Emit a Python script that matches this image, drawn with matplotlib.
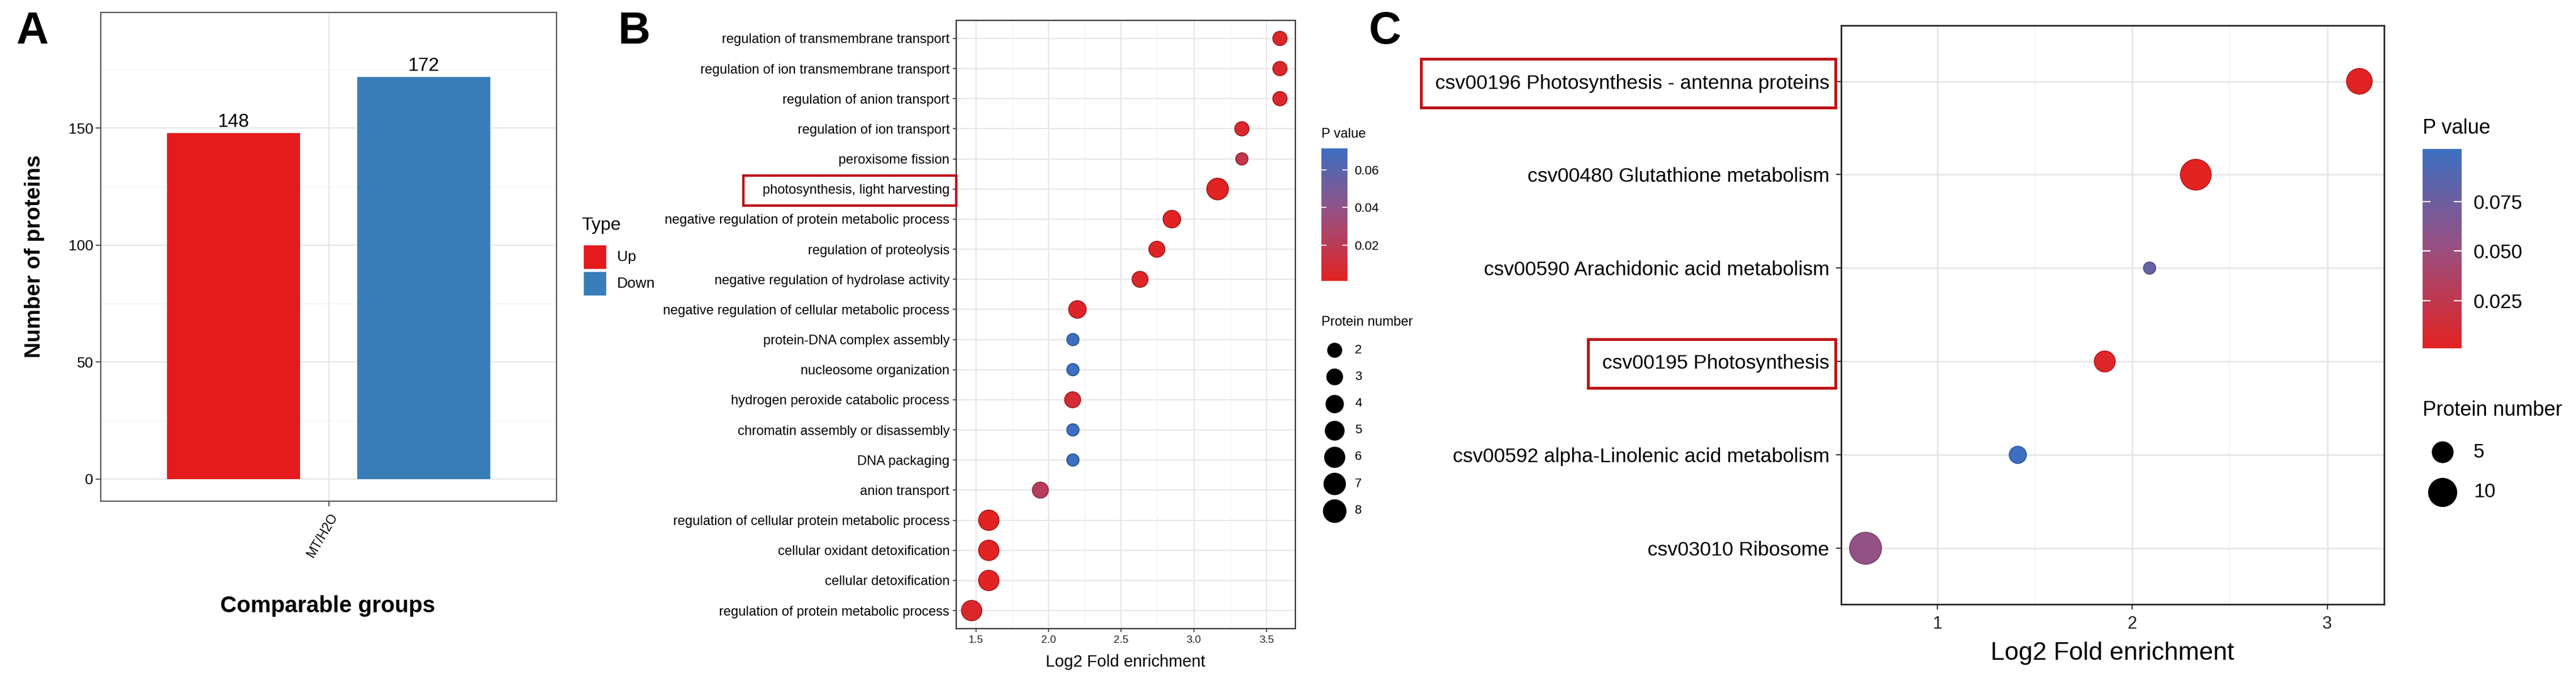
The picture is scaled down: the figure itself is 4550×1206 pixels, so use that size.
import numpy as np
import matplotlib
matplotlib.use('Agg')
import matplotlib.pyplot as plt
from matplotlib.colors import LinearSegmentedColormap, Normalize, to_rgb
from matplotlib.cm import ScalarMappable
from matplotlib.patches import Rectangle

plt.rcParams['font.family'] = ['Liberation Sans', 'DejaVu Sans']

# ---------------- data ----------------
# Panel A
a_group = ['MT/H2O']
a_types = ['Up', 'Down']
a_counts = [148, 172]
a_colors = ['#E41A1C', '#377EB8']

# Panel B (GO enrichment), top to bottom
b_terms = ['regulation of transmembrane transport',
           'regulation of ion transmembrane transport',
           'regulation of anion transport',
           'regulation of ion transport',
           'peroxisome fission',
           'photosynthesis, light harvesting',
           'negative regulation of protein metabolic process',
           'regulation of proteolysis',
           'negative regulation of hydrolase activity',
           'negative regulation of cellular metabolic process',
           'protein-DNA complex assembly',
           'nucleosome organization',
           'hydrogen peroxide catabolic process',
           'chromatin assembly or disassembly',
           'DNA packaging',
           'anion transport',
           'regulation of cellular protein metabolic process',
           'cellular oxidant detoxification',
           'cellular detoxification',
           'regulation of protein metabolic process']
b_fold = [3.593, 3.593, 3.593, 3.331, 3.331, 3.164, 2.849, 2.746, 2.630, 2.199,
          2.168, 2.168, 2.166, 2.168, 2.168, 1.944, 1.589, 1.589, 1.589, 1.471]
b_count = [2, 2, 2, 2, 1, 7, 4, 3, 3, 4, 1, 1, 3, 1, 1, 3, 6, 6, 6, 6]
b_pval = [0.004, 0.004, 0.004, 0.005, 0.016, 0.001, 0.002, 0.003, 0.004, 0.003,
          0.0715, 0.0715, 0.008, 0.0715, 0.0715, 0.022, 0.0015, 0.0015, 0.0015, 0.005]
b_highlight = ['photosynthesis, light harvesting']
b_size_breaks = [2, 3, 4, 5, 6, 7, 8]
b_p_ticks = [0.02, 0.04, 0.06]

# Panel C (KEGG enrichment), top to bottom
c_terms = ['csv00196 Photosynthesis - antenna proteins',
           'csv00480 Glutathione metabolism',
           'csv00590 Arachidonic acid metabolism',
           'csv00195 Photosynthesis',
           'csv00592 alpha-Linolenic acid metabolism',
           'csv03010 Ribosome']
c_fold = [3.165, 2.326, 2.089, 1.859, 1.413, 0.632]
c_count = [8, 12, 1, 5, 3, 13]
c_pval = [0.002, 0.0008, 0.080, 0.004, 0.1017, 0.055]
c_highlight = ['csv00196 Photosynthesis - antenna proteins', 'csv00195 Photosynthesis']
c_size_breaks = [5, 10]
c_p_ticks = [0.025, 0.050, 0.075]

# ---------------- style helpers ----------------
W, H = 4550, 1206
DPI = 100
fig = plt.figure(figsize=(W / DPI, H / DPI), dpi=DPI)
fig.patch.set_facecolor('white')


def rect(x0, y0, x1, y1):
    return [x0 / W, 1 - y1 / H, (x1 - x0) / W, (y1 - y0) / H]


def ftext(x, y, s, **kw):
    return fig.text(x / W, 1 - y / H, s, **kw)


cmap = LinearSegmentedColormap.from_list('pv', ['#E32222', '#9A4F80', '#3C6FC2'])
GRID = '#E6E6E6'
GRID_MINOR = '#F1F1F1'
BOX_RED = '#BE1418'


def size_b(n):
    d = np.sqrt(300 + 165 * np.asarray(n, float))
    return (d * 72 / DPI) ** 2


def size_c(n):
    d = np.sqrt(238 + 226 * np.asarray(n, float))
    return (d * 72 / DPI) ** 2


def darker(c, f=0.72):
    r, g, b = c[:3]
    return (r * f, g * f, b * f)


def style_spines(ax, color='#333333', lw=1.6):
    for sp in ax.spines.values():
        sp.set_color(color)
        sp.set_linewidth(lw)


# overlay axes in pixel coordinates for legends/annotations
ov = fig.add_axes([0, 0, 1, 1], zorder=10)
ov.set_xlim(0, W)
ov.set_ylim(H, 0)
ov.axis('off')
ov.patch.set_alpha(0)

# ---------------- Panel A ----------------
axA = fig.add_axes(rect(178, 22, 983, 885))
offsets = [-0.25, 0.25]
for t, cnt, col, off in zip(a_types, a_counts, a_colors, offsets):
    axA.bar(1 + off, cnt, width=0.35, color=col, zorder=3)
    axA.text(1 + off, cnt + 0.8, str(cnt), ha='center', va='bottom', fontsize=24, zorder=4)
axA.set_xlim(0.4, 1.6)
axA.set_ylim(-9.5, 199.5)
axA.set_yticks([0, 50, 100, 150])
axA.set_yticks([25, 75, 125, 175], minor=True)
axA.set_xticks([1])
axA.set_xticklabels(a_group, rotation=60, ha='right', va='top', rotation_mode='anchor', fontsize=16.5)
axA.grid(True, which='major', color=GRID, lw=1.5, zorder=0)
axA.grid(True, which='minor', axis='y', color=GRID_MINOR, lw=1.0, zorder=0)
axA.tick_params(axis='y', which='major', labelsize=19, length=6.5, width=1.2, pad=3, color='#333333')
axA.tick_params(axis='y', which='minor', length=0)
axA.tick_params(axis='x', length=6.5, width=1.2, pad=6, color='#333333')
style_spines(axA, '#555555', 1.6)
ftext(61, 453, 'Number of proteins', rotation=90, ha='center', va='center', fontsize=28, weight='bold')
ftext(579, 1070, 'Comparable groups', ha='center', va='center', fontsize=29, weight='bold')

# legend "Type"
ftext(1027, 398, 'Type', ha='left', va='center', fontsize=23)
for i, (t, col) in enumerate(zip(a_types, a_colors)):
    y0 = 432 + i * 47
    ov.add_patch(Rectangle((1030, y0), 41, 43, facecolor=col, edgecolor='white', lw=1))
    ov.text(1090, y0 + 22, t, ha='left', va='center', fontsize=19)

# ---------------- Panel B ----------------
axB = fig.add_axes(rect(1689, 36, 2288, 1110))
nB = len(b_terms)
normB = Normalize(vmin=min(b_pval), vmax=max(b_pval))
colsB = cmap(normB(b_pval))
axB.scatter(b_fold, np.arange(nB), s=size_b(b_count), c=colsB,
            edgecolors=[darker(c) for c in colsB], linewidths=1.2, zorder=3)
rngB = max(b_fold) - min(b_fold)
axB.set_xlim(min(b_fold) - 0.05 * rngB, max(b_fold) + 0.05 * rngB)
axB.set_ylim(nB - 0.4, -0.6)
axB.set_yticks(np.arange(nB))
axB.set_yticklabels(b_terms, fontsize=17)
axB.set_xticks([1.5, 2.0, 2.5, 3.0, 3.5])
axB.set_xticklabels(['1.5', '2.0', '2.5', '3.0', '3.5'], fontsize=13.5, color='#222222')
axB.set_xticks([1.75, 2.25, 2.75, 3.25], minor=True)
axB.grid(True, which='major', color=GRID, lw=1.5, zorder=0)
axB.grid(True, which='minor', axis='x', color=GRID_MINOR, lw=1.0, zorder=0)
axB.tick_params(axis='both', which='major', length=4.5, width=1.2, pad=4, color='#333333')
axB.tick_params(axis='x', which='minor', length=0)
style_spines(axB)
ftext(1988, 1169, 'Log2 Fold enrichment', ha='center', va='center', fontsize=21)

# colorbar B
caxB = fig.add_axes(rect(2334, 261.5, 2380, 496))
cbB = fig.colorbar(ScalarMappable(norm=normB, cmap=cmap), cax=caxB)
cbB.outline.set_visible(False)
cbB.set_ticks(b_p_ticks)
cbB.set_ticklabels(['%.2f' % v for v in b_p_ticks])
caxB.tick_params(direction='in', length=6.5, width=1.3, color='white', labelsize=16,
                 left=True, right=True, pad=9)
ftext(2334, 237, 'P value', ha='left', va='center', fontsize=17)
ftext(2334, 569, 'Protein number', ha='left', va='center', fontsize=17)
for i, n in enumerate(b_size_breaks):
    yy = 618 + i * 47.25
    ov.scatter([2357], [yy], s=size_b(n), c='black', zorder=5)
    ov.text(2393, yy, str(n), ha='left', va='center', fontsize=16)

# ---------------- Panel C ----------------
axC = fig.add_axes(rect(3251.5, 44.6, 4211, 1067))
nC = len(c_terms)
normC = Normalize(vmin=min(c_pval), vmax=max(c_pval))
colsC = cmap(normC(c_pval))
axC.scatter(c_fold, np.arange(nC), s=size_c(c_count), c=colsC,
            edgecolors=[darker(c, 0.8) for c in colsC], linewidths=1.2, zorder=3)
rngC = max(c_fold) - min(c_fold)
axC.set_xlim(min(c_fold) - 0.05 * rngC, max(c_fold) + 0.05 * rngC)
axC.set_ylim(nC - 0.4, -0.6)
axC.set_yticks(np.arange(nC))
axC.set_yticklabels(c_terms, fontsize=25.5)
axC.set_xticks([1, 2, 3])
axC.set_xticklabels(['1', '2', '3'], fontsize=22, color='#222222')
axC.set_xticks([1.5, 2.5], minor=True)
axC.grid(True, which='major', color=GRID, lw=2.0, zorder=0)
axC.grid(True, which='minor', axis='x', color=GRID_MINOR, lw=1.3, zorder=0)
axC.tick_params(axis='both', which='major', length=6.5, width=1.5, pad=8, color='#333333')
axC.tick_params(axis='x', which='minor', length=0)
style_spines(axC, '#222222', 2.0)
ftext(3731, 1154, 'Log2 Fold enrichment', ha='center', va='center', fontsize=32)

caxC = fig.add_axes(rect(4279, 263, 4348, 615))
cbC = fig.colorbar(ScalarMappable(norm=normC, cmap=cmap), cax=caxC)
cbC.outline.set_visible(False)
cbC.set_ticks(c_p_ticks)
cbC.set_ticklabels(['%.3f' % v for v in c_p_ticks])
caxC.tick_params(direction='in', length=10, width=1.6, color='white', labelsize=25,
                 left=True, right=True, pad=15)
ftext(4279, 227, 'P value', ha='left', va='center', fontsize=26)
ftext(4279, 725, 'Protein number', ha='left', va='center', fontsize=26)
for i, n in enumerate(c_size_breaks):
    yy = 798 + i * 71
    ov.scatter([4314], [yy], s=size_c(n), c='black', zorder=5)
    ov.text(4369, yy, str(n), ha='left', va='center', fontsize=25)

# panel letters
for x, s in [(28, 'A'), (1092, 'B'), (2418, 'C')]:
    ftext(x, 77, s, ha='left', va='baseline', fontsize=57, weight='bold')

# ---------------- highlight boxes around tick labels ----------------
fig.canvas.draw()
renderer = fig.canvas.get_renderer()


def box_labels(ax, names, pad_left, half_h, gap_right, lw):
    ax_x0 = ax.get_window_extent(renderer).x0
    for lab in ax.get_yticklabels():
        if lab.get_text() in names:
            bb = lab.get_window_extent(renderer)
            yc = H - (bb.y0 + bb.y1) / 2
            x0 = bb.x0 - pad_left
            x1 = ax_x0 - gap_right
            ov.add_patch(Rectangle((x0, yc - half_h), x1 - x0, 2 * half_h,
                                   fill=False, edgecolor=BOX_RED, lw=lw, zorder=6))


box_labels(axB, b_highlight, 34, 26.5, 0, 3.2)
box_labels(axC, c_highlight, 25, 43, 10, 3.6)

fig.savefig('out.png', dpi=DPI, facecolor='white')
